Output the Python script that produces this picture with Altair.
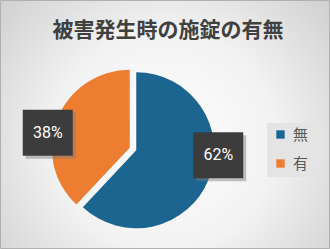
import altair as alt
import pandas as pd

categories = ["無", "有"]
values = [62, 38]
order = [1, 2]
colors = ["#1b6590", "#ed7d31"]
title_text = "被害発生時の施錠の有無"

df = pd.DataFrame({"cat": categories, "value": values, "order": order})

W, H = 330, 249
CX, CY, R = 133, 149, 78
EXPL = 3.5
LCY, LR = 144, 86
PI2 = 6.283185307

base = alt.Chart(df).transform_window(
    cum="sum(value)", frame=[None, 0], sort=[alt.SortField("order")]
).transform_calculate(
    start="datum.cum - datum.value",
    mid=f"(datum.cum - datum.value/2) * {PI2} / 100",
).transform_calculate(
    px=f"{CX} + {EXPL} * sin(datum.mid)",
    py=f"{CY} - {EXPL} * cos(datum.mid)",
    la="datum.mid - 14 * PI / 180",
    label="datum.value + '%'",
).transform_calculate(
    lx=f"{CX} + {LR} * sin(datum.la)",
    ly=f"{LCY} - {LR} * cos(datum.la)",
).transform_calculate(
    bx1="datum.lx - 25", bx2="datum.lx + 25",
    by1="datum.ly - 23", by2="datum.ly + 23",
    sx1="datum.lx - 22", sx2="datum.lx + 28",
    sy1="datum.ly - 20", sy2="datum.ly + 26",
)

bg = alt.Chart(alt.Data(values=[{}])).mark_rect(
    fill={
        "gradient": "radial",
        "x1": 0.5, "y1": 0.55, "r1": 0,
        "x2": 0.5, "y2": 0.55, "r2": 0.75,
        "stops": [
            {"offset": 0, "color": "#ffffff"},
            {"offset": 0.45, "color": "#f2f2f2"},
            {"offset": 1, "color": "#c6c6c6"},
        ],
    },
    stroke="#b0b0b0",
    strokeWidth=1,
).encode(x=alt.value(0.5), x2=alt.value(W - 0.5), y=alt.value(0.5), y2=alt.value(H - 0.5))

legend_bg = alt.Chart(alt.Data(values=[{}])).mark_rect(fill="#e4e4e4").encode(
    x=alt.value(267), x2=alt.value(319), y=alt.value(123), y2=alt.value(177)
)

title = alt.Chart(alt.Data(values=[{}])).mark_text(
    text=title_text,
    font="Noto Sans CJK JP",
    fontSize=21,
    fontWeight="bold",
    color="#404040",
    align="center",
    baseline="middle",
).encode(x=alt.value(168), y=alt.value(31))

pie = base.mark_arc(radius=R, stroke=None).encode(
    theta=alt.Theta("start:Q", scale=alt.Scale(domain=[0, 100], range=[0, PI2])),
    theta2="cum:Q",
    x=alt.X("px:Q", scale=None),
    y=alt.Y("py:Q", scale=None),
    color=alt.Color(
        "cat:N",
        scale=alt.Scale(domain=categories, range=colors),
        legend=alt.Legend(
            title=None,
            orient="none",
            legendX=273,
            legendY=127,
            padding=0,
            symbolType="square",
            symbolSize=70,
            symbolStrokeWidth=0,
            labelFontSize=15,
            labelFont="Noto Sans CJK JP",
            labelColor="#595959",
            rowPadding=13,
            labelOffset=5,
        ),
    ),
)

shadow = base.mark_rect(fill="#7a7a7a", opacity=0.45).encode(
    x=alt.X("sx1:Q", scale=None), x2="sx2:Q",
    y=alt.Y("sy1:Q", scale=None), y2="sy2:Q",
)
box = base.mark_rect(fill="#3c3c3c").encode(
    x=alt.X("bx1:Q", scale=None), x2="bx2:Q",
    y=alt.Y("by1:Q", scale=None), y2="by2:Q",
)
txt = base.mark_text(
    color="white", fontSize=16, font="Roboto", align="center", baseline="middle"
).encode(
    x=alt.X("lx:Q", scale=None), y=alt.Y("ly:Q", scale=None), text="label:N"
)

chart = alt.layer(bg, legend_bg, title, pie, shadow, box, txt).properties(
    width=W, height=H, autosize="none", padding=0
).configure_view(stroke=None).configure(background="#ffffff")

chart.save("out.html", embed_options={"renderer": "svg", "actions": False})
